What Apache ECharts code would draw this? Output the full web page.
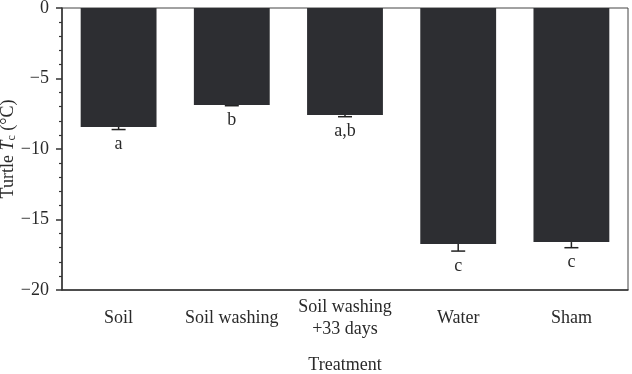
<!DOCTYPE html>
<html>
<head>
<meta charset="utf-8">
<script src="https://cdn.jsdelivr.net/npm/echarts@6/dist/echarts.min.js"></script>
<style>
  html, body { margin: 0; padding: 0; background: #fff; }
  #chart { width: 632px; height: 374px; }
</style>
</head>
<body>
<div id="chart"></div>
<script>
// data
const categories = ['Soil', 'Soil washing', 'Soil washing\n+33 days', 'Water', 'Sham'];
const means = [-8.44, -6.88, -7.59, -16.74, -16.6];
const errors = [0.18, 0.05, 0.12, 0.5, 0.4];
const groups = ['a', 'b', 'a,b', 'c', 'c'];
const yTicks = [0, -5, -10, -15, -20];

const FONT = 'Liberation Serif';
const INK = '#2a2a2a';

const chart = echarts.init(document.getElementById('chart'), null, { renderer: 'canvas' });

const minus = v => (v < 0 ? '\u2212' + Math.abs(v) : String(v));

const option = {
  animation: false,
  grid: {
    left: 62, right: 4, top: 8, bottom: 84,
    outerBoundsMode: 'none',
    containLabel: false,
    show: true, borderColor: '#444', borderWidth: 1
  },
  xAxis: {
    type: 'category',
    data: categories,
    name: 'Treatment',
    nameLocation: 'middle',
    nameGap: 66,
    nameMoveOverlap: false,
    nameTextStyle: { fontFamily: FONT, fontSize: 18, color: INK },
    axisLine: { onZero: false, lineStyle: { color: '#333', width: 1.5 } },
    axisTick: { alignWithLabel: true, length: 6, lineStyle: { color: '#333', width: 1.5 } },
    axisLabel: {
      interval: 0,
      fontFamily: FONT, fontSize: 18, color: INK,
      margin: 28, verticalAlign: 'middle', lineHeight: 22
    },
    splitLine: { show: false }
  },
  yAxis: {
    type: 'value',
    min: yTicks[yTicks.length - 1],
    max: yTicks[0],
    interval: 5,
    name: '{n|Turtle }{i|T}{s|c}{n| (°C)}',
    nameLocation: 'middle',
    nameRotate: 90,
    nameGap: 44,
    nameMoveOverlap: false,
    nameTextStyle: {
      rich: {
        n: { fontFamily: FONT, fontSize: 18, color: INK },
        i: { fontFamily: FONT, fontSize: 18, fontStyle: 'italic', color: INK },
        s: { fontFamily: FONT, fontSize: 12, color: INK, verticalAlign: 'bottom', padding: [7, 0, 0, 0] }
      }
    },
    axisLine: { show: true, onZero: false, lineStyle: { color: '#333', width: 1.5 } },
    axisTick: { show: true, length: 6, lineStyle: { color: '#333', width: 1.5 } },
    minorTick: { show: true, splitNumber: 5, length: 3, lineStyle: { color: '#333', width: 1.2 } },
    axisLabel: {
      fontFamily: FONT, fontSize: 18, color: INK, margin: 13,
      formatter: minus
    },
    splitLine: { show: false }
  },
  series: [
    {
      type: 'bar',
      data: means,
      barWidth: '67%',
      itemStyle: { color: '#2d2e32' },
      z: 2
    },
    {
      type: 'custom',
      data: means.map((m, i) => [i, m, errors[i], groups[i]]),
      z: 3,
      renderItem: (params, api) => {
        const i = api.value(0);
        const m = api.value(1);
        const e = api.value(2);
        const top = api.coord([i, m]);
        const bot = api.coord([i, m - e]);
        const half = 7;
        return {
          type: 'group',
          children: [
            {
              type: 'line',
              shape: { x1: top[0], y1: top[1], x2: bot[0], y2: bot[1] },
              style: { stroke: '#222', lineWidth: 1.5 }
            },
            {
              type: 'line',
              shape: { x1: bot[0] - half, y1: bot[1], x2: bot[0] + half, y2: bot[1] },
              style: { stroke: '#222', lineWidth: 1.5 }
            },
            {
              type: 'text',
              style: {
                text: groups[i],
                x: bot[0], y: bot[1] + 15,
                align: 'center', verticalAlign: 'middle',
                font: '18px "Liberation Serif"', fill: INK
              }
            }
          ]
        };
      }
    }
  ]
};

chart.setOption(option);
</script>
</body>
</html>
